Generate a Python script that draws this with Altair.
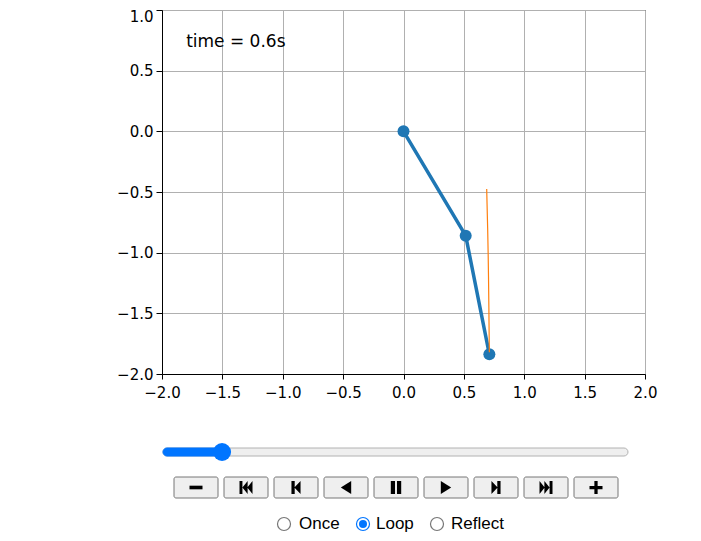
import altair as alt
import pandas as pd

# ---- data ----
arm_x = [0.0, 0.515, 0.711]
arm_y = [0.0, -0.860, -1.838]

trace_x = [0.689, 0.692, 0.697, 0.701, 0.704, 0.707, 0.709, 0.711]
trace_y = [-0.475, -0.60, -0.80, -1.00, -1.20, -1.45, -1.65, -1.82]

time_label = "time = 0.6s"
x_ticks = [-2.0, -1.5, -1.0, -0.5, 0.0, 0.5, 1.0, 1.5, 2.0]
y_ticks = [-2.0, -1.5, -1.0, -0.5, 0.0, 0.5, 1.0]

button_icons = [
    "M-1,-0.28H1V0.28H-1Z",
    "M-1,-1H-0.55V1H-1Z M-0.55,0L0.25,-1V1Z M0.2,0L1,-1V1Z",
    "M-0.7,-1H-0.2V1H-0.7Z M-0.25,0L0.7,-1V1Z",
    "M-0.8,0L0.8,-1V1Z",
    "M-0.8,-1H-0.15V1H-0.8Z M0.15,-1H0.8V1H0.15Z",
    "M-0.8,-1L0.8,0L-0.8,1Z",
    "M-0.7,-1L0.25,0L-0.7,1Z M0.2,-1H0.7V1H0.2Z",
    "M-1,-1L-0.2,0L-1,1Z M-0.25,-1L0.55,0L-0.25,1Z M0.55,-1H1V1H0.55Z",
    "M-0.25,-1H0.25V-0.25H1V0.25H0.25V1H-0.25V0.25H-1V-0.25H-0.25Z",
]
radio_labels = ["Once", "Loop", "Reflect"]
radio_selected = [False, True, False]
slider_fraction = 0.127

# ---- tables ----
arm = pd.DataFrame({"x": arm_x, "y": arm_y, "o": range(len(arm_x))})
trace = pd.DataFrame({"x": trace_x, "y": trace_y, "o": range(len(trace_x))})
txt = pd.DataFrame({"x": [-1.8], "y": [0.695], "t": [time_label]})

BLUE = "#1f77b4"
ORANGE = "#ff7f0e"
ACCENT = "#0075ff"

xs = alt.Scale(domain=[-2, 2], nice=False, zero=False)
ys = alt.Scale(domain=[-2, 1], nice=False, zero=False)
lab = "replace(format(datum.value, '.1f'), '-', '\u2212')"
xaxis = alt.Axis(values=x_ticks, labelExpr=lab, title=None, grid=True)
yaxis = alt.Axis(
    values=y_ticks, labelExpr=lab, title=None, grid=True,
    labelOffset={"condition": {"test": "datum.value >= 1", "value": 6}, "value": 0},
)

arm_line = alt.Chart(arm).mark_line(color=BLUE, strokeWidth=3.5).encode(
    x=alt.X("x:Q", scale=xs, axis=xaxis),
    y=alt.Y("y:Q", scale=ys, axis=yaxis),
    order="o:Q",
)
arm_pts = alt.Chart(arm).mark_circle(color=BLUE, size=144, opacity=1).encode(
    x=alt.X("x:Q", scale=xs), y=alt.Y("y:Q", scale=ys)
)
trace_line = alt.Chart(trace).mark_line(color=ORANGE, strokeWidth=1.2).encode(
    x=alt.X("x:Q", scale=xs), y=alt.Y("y:Q", scale=ys), order="o:Q"
)
time_text = alt.Chart(txt).mark_text(
    align="left", baseline="alphabetic", font="DejaVu Sans", fontSize=17, color="#000000"
).encode(x=alt.X("x:Q", scale=xs), y=alt.Y("y:Q", scale=ys), text="t:N")

# ---- controls (pixel layout, relative to the plot origin) ----
PX = dict(scale=None, axis=None)
track_l, track_r, track_y = 1, 466, 442
thumb_x = track_l + slider_fraction * (track_r - track_l)
slider_df = pd.DataFrame({
    "x0": [track_l, track_l], "x1": [track_r, thumb_x],
    "y0": [track_y - 4, track_y - 4], "y1": [track_y + 4, track_y + 4],
    "fill": ["#efefef", ACCENT], "stroke": ["#b2b2b2", ACCENT],
})
slider = alt.Chart(slider_df).mark_rect(cornerRadius=4, strokeWidth=1).encode(
    x=alt.X("x0:Q", **PX), x2="x1:Q", y=alt.Y("y0:Q", **PX), y2="y1:Q",
    fill=alt.Fill("fill:N", scale=None), stroke=alt.Stroke("stroke:N", scale=None),
)
thumb = alt.Chart(pd.DataFrame({"x": [thumb_x], "y": [track_y]})).mark_circle(
    color=ACCENT, size=324, opacity=1
).encode(x=alt.X("x:Q", **PX), y=alt.Y("y:Q", **PX))

bdf = pd.DataFrame({
    "i": range(len(button_icons)),
    "icon": button_icons,
})
bdf["x0"] = 12 + 50 * bdf["i"]
bdf["x1"] = bdf["x0"] + 44
bdf["cx"] = bdf["x0"] + 22
bdf["y0"] = 467
bdf["y1"] = 488
bdf["cy"] = 477.5
buttons = alt.Chart(bdf).mark_rect(
    fill="#efefef", stroke="#767676", strokeWidth=1, cornerRadius=2
).encode(x=alt.X("x0:Q", **PX), x2="x1:Q", y=alt.Y("y0:Q", **PX), y2="y1:Q")
icons = alt.Chart(bdf).mark_point(
    filled=True, color="#000000", opacity=1, size=169, strokeWidth=0
).encode(
    x=alt.X("cx:Q", **PX), y=alt.Y("cy:Q", **PX),
    shape=alt.Shape("icon:N", scale=None),
)

rdf = pd.DataFrame({
    "label": radio_labels,
    "sel": radio_selected,
    "cx": [122, 201, 275],
    "tx": [137, 214, 289],
})
rdf["cy"] = 514
rdf["ty"] = 519
rdf["stroke"] = ["#0075ff" if s else "#767676" for s in radio_selected]
radio_outer = alt.Chart(rdf).mark_point(
    shape="circle", filled=False, size=169, fill="#ffffff", strokeWidth=1.2, opacity=1
).encode(
    x=alt.X("cx:Q", **PX), y=alt.Y("cy:Q", **PX),
    stroke=alt.Stroke("stroke:N", scale=None),
)
radio_inner = alt.Chart(rdf[rdf["sel"]]).mark_circle(
    color=ACCENT, size=64, opacity=1
).encode(x=alt.X("cx:Q", **PX), y=alt.Y("cy:Q", **PX))
radio_text = alt.Chart(rdf).mark_text(
    align="left", baseline="alphabetic", font="Liberation Sans", fontSize=17, color="#000000"
).encode(x=alt.X("tx:Q", **PX), y=alt.Y("ty:Q", **PX), text="label:N")

chart = alt.layer(
    arm_line, arm_pts, trace_line, time_text,
    slider, thumb, buttons, icons, radio_outer, radio_inner, radio_text,
).properties(
    width=483, height=364,
    autosize=alt.AutoSizeParams(type="none"),
    padding={"left": 154, "top": 2, "right": 40, "bottom": 158},
    background="#ffffff",
).configure_view(
    stroke="#000000", strokeWidth=1, clip=False
).configure_axis(
    domainColor="#000000", domainWidth=1,
    tickColor="#000000", tickSize=5, tickWidth=1,
    gridColor="#b0b0b0", gridWidth=1, gridOpacity=1,
    labelFont="DejaVu Sans", labelFontSize=15, labelColor="#000000",
    labelPadding=6, labelFlush=False, labelOverlap=False,
).configure_axisY(labelPadding=3, tickSize=6)

chart.save("out.html", embed_options={"renderer": "svg", "actions": False})
